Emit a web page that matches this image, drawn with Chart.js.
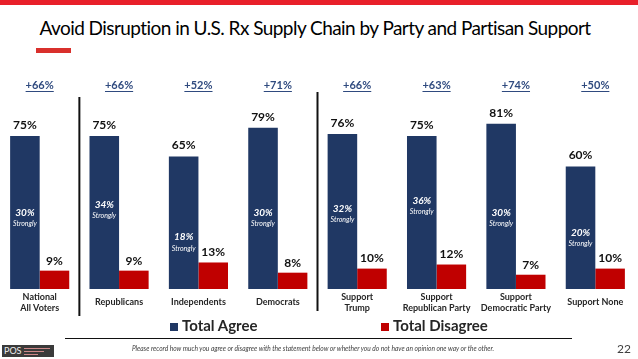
<!DOCTYPE html>
<html>
<head>
<meta charset="utf-8">
<script src="https://cdn.jsdelivr.net/npm/chart.js@4.4.0/dist/chart.umd.min.js"></script>
<style>
  body { margin: 0; background: #fff; font-family: Lato, "Open Sans", sans-serif; }
  #wrap { position: relative; width: 638px; height: 359px; overflow: hidden; }
  #topbar { position: absolute; left: 0; top: 0; width: 638px; height: 5px; background: #e8202a; }
  #title { position: absolute; left: 0; width: 630px; top: 16px; text-align: center; font-size: 19px; color: #000; letter-spacing: -0.55px; }
  #accent { position: absolute; left: 36px; top: 48px; width: 35px; height: 5px; background: #d9302c; }
  canvas { position: absolute; left: 0; top: 0; }
  .leg { position: absolute; top: 316px; font-size: 15px; font-weight: bold; color: #262626; }
  .leg span { display: inline-block; width: 8px; height: 8px; margin-right: 4px; }
  #rule { position: absolute; left: 65px; top: 338px; width: 507px; height: 1px; background: #111; }
  #note { position: absolute; left: 0; width: 626px; top: 344px; text-align: center; font-size: 6.6px; font-style: italic; color: #404040; }
  #page { position: absolute; left: 617px; top: 341px; font-size: 12px; color: #404040; }
  #logo { position: absolute; left: 2px; top: 345px; width: 52px; height: 12px; background: #3a3a3a; color: #eee; font-size: 9px; line-height: 12px; padding-left: 2px; box-sizing: border-box; }
  #logo i { position: absolute; left: 22px; height: 1px; width: 26px; background: #c88; }
</style>
</head>
<body>
<div id="wrap">
  <div id="topbar"></div>
  <div id="title">Avoid Disruption in U.S. Rx Supply Chain by Party and Partisan Support</div>
  <div id="accent"></div>
  <canvas id="chart" width="638" height="359"></canvas>
  <div class="leg" style="left:170px"><span style="background:#203864"></span>Total Agree</div>
  <div class="leg" style="left:381px"><span style="background:#c00000"></span>Total Disagree</div>
  <div id="rule"></div>
  <div id="note">Please record how much you agree or disagree with the statement below or whether you do not have an opinion one way or the other.</div>
  <div id="page">22</div>
  <div id="logo">POS<i style="top:3px"></i><i style="top:6px;width:20px"></i><i style="top:9px;width:14px"></i></div>
</div>
<script>
const categories = [
  ['National', 'All Voters'], ['Republicans'], ['Independents'], ['Democrats'],
  ['Support', 'Trump'], ['Support', 'Republican Party'], ['Support', 'Democratic Party'], ['Support None']
];
const totalAgree = [75, 75, 65, 79, 76, 75, 81, 60];
const totalDisagree = [9, 9, 13, 8, 10, 12, 7, 10];
const stronglyAgree = [30, 34, 18, 30, 32, 36, 30, 20];
const netLabels = ['+66%', '+66%', '+52%', '+71%', '+66%', '+63%', '+74%', '+50%'];
const separatorsAfter = [0, 3];

const FONT = 'Lato, "Open Sans", sans-serif';

const labelPlugin = {
  id: 'labels',
  afterDatasetsDraw(chart) {
    const ctx = chart.ctx;
    const xs = chart.scales.x, ys = chart.scales.y;
    const agreeMeta = chart.getDatasetMeta(0);
    const disMeta = chart.getDatasetMeta(1);
    ctx.save();
    ctx.textAlign = 'center';
    ctx.textBaseline = 'middle';
    categories.forEach((cat, i) => {
      const cx = xs.getPixelForValue(i);
      const a = agreeMeta.data[i], d = disMeta.data[i];
      // value labels
      ctx.fillStyle = '#111';
      ctx.font = 'bold 12px ' + FONT;
      ctx.fillText(totalAgree[i] + '%', a.x, a.y - 11);
      ctx.fillText(totalDisagree[i] + '%', d.x, d.y - 10);
      // strongly labels
      const sy = ys.getPixelForValue(stronglyAgree[i]) - 4;
      ctx.fillStyle = '#fff';
      ctx.font = 'italic bold 10px ' + FONT;
      ctx.fillText(stronglyAgree[i] + '%', a.x, sy - 11);
      ctx.font = 'italic 7px ' + FONT;
      ctx.fillText('Strongly', a.x, sy);
      // net labels
      ctx.fillStyle = '#2f4a7f';
      ctx.font = 'bold 11px ' + FONT;
      ctx.fillText(netLabels[i], cx, 85);
      const w = ctx.measureText(netLabels[i]).width;
      ctx.fillRect(cx - w / 2, 91, w, 1);
      // category labels
      ctx.fillStyle = '#262626';
      ctx.font = 'bold 9px ' + FONT;
      if (cat.length === 1) {
        ctx.fillText(cat[0], cx, 302.5);
      } else {
        ctx.fillText(cat[0], cx, 297);
        ctx.fillText(cat[1], cx, 308);
      }
    });
    // separators
    ctx.strokeStyle = '#111';
    ctx.lineWidth = 2;
    separatorsAfter.forEach((k, j) => {
      const x = (xs.getPixelForValue(k) + xs.getPixelForValue(k + 1)) / 2;
      ctx.beginPath();
      ctx.moveTo(x, j === 0 ? 97 : 92);
      ctx.lineTo(x, j === 0 ? 316 : 311);
      ctx.stroke();
    });
    ctx.restore();
  }
};

new Chart(document.getElementById('chart').getContext('2d'), {
  type: 'bar',
  data: {
    labels: categories,
    datasets: [
      { label: 'Total Agree', data: totalAgree, backgroundColor: '#203864' },
      { label: 'Total Disagree', data: totalDisagree, backgroundColor: '#c00000' }
    ]
  },
  options: {
    responsive: false,
    animation: false,
    categoryPercentage: 0.745,
    barPercentage: 1.0,
    layout: { padding: { top: 85, bottom: 70, left: 0, right: 3 } },
    scales: {
      x: { display: false },
      y: { display: false, min: 0, max: 100 }
    },
    plugins: {
      legend: { display: false },
      tooltip: { enabled: false }
    }
  },
  plugins: [labelPlugin]
});
</script>
</body>
</html>
